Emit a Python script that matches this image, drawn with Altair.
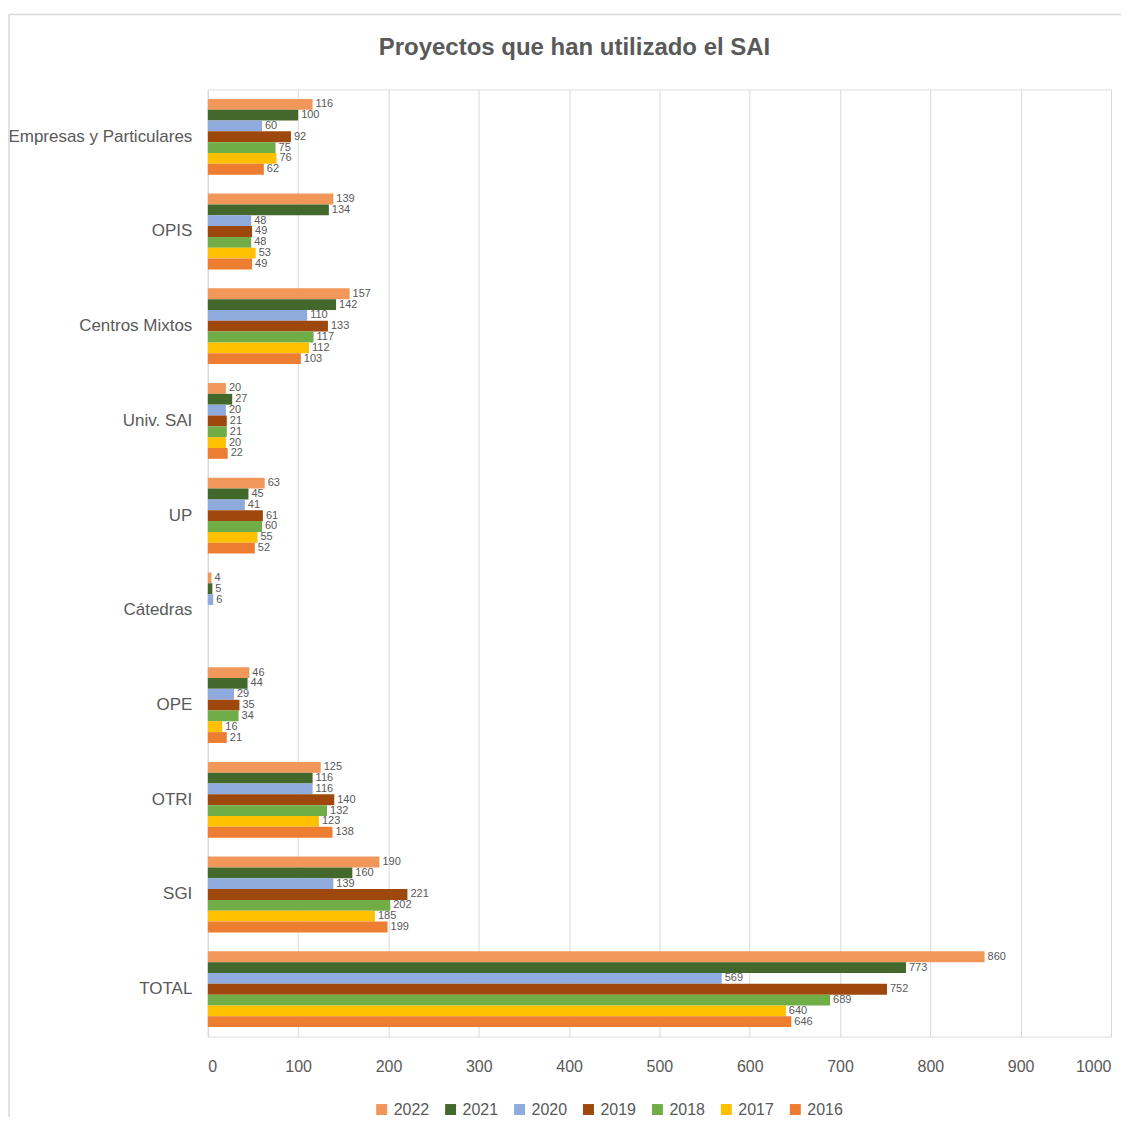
import altair as alt
import pandas as pd

categories = ["Empresas y Particulares", "OPIS", "Centros Mixtos", "Univ. SAI", "UP",
              "Cátedras", "OPE", "OTRI", "SGI", "TOTAL"]
years = ["2022", "2021", "2020", "2019", "2018", "2017", "2016"]
colors = ["#F1975A", "#43682B", "#8FAADC", "#9E480E", "#70AD47", "#FFC000", "#ED7D31"]

v2022 = [116, 139, 157, 20, 63, 4, 46, 125, 190, 860]
v2021 = [100, 134, 142, 27, 45, 5, 44, 116, 160, 773]
v2020 = [60, 48, 110, 20, 41, 6, 29, 116, 139, 569]
v2019 = [92, 49, 133, 21, 61, None, 35, 140, 221, 752]
v2018 = [75, 48, 117, 21, 60, None, 34, 132, 202, 689]
v2017 = [76, 53, 112, 20, 55, None, 16, 123, 185, 640]
v2016 = [62, 49, 103, 22, 52, None, 21, 138, 199, 646]
xticks = list(range(0, 1001, 100))
title_text = "Proyectos que han utilizado el SAI"

series = dict(zip(years, [v2022, v2021, v2020, v2019, v2018, v2017, v2016]))
rows = []
for y, vals in series.items():
    for c, v in zip(categories, vals):
        if v is not None:
            rows.append({"cat": c, "year": y, "value": v})
df = pd.DataFrame(rows)

FONT = "Liberation Sans"

base = alt.Chart(df).encode(
    y=alt.Y("cat:N", sort=categories,
            scale=alt.Scale(paddingInner=0.2, paddingOuter=0.1),
            axis=alt.Axis(title=None, ticks=False, grid=False, labelFontSize=17,
                          labelColor="#595959", labelFont=FONT, labelPadding=16,
                          domainColor="#D9D9D9", labelLimit=300)),
    yOffset=alt.YOffset("year:N", sort=years),
)

bars = base.mark_bar().encode(
    x=alt.X("value:Q", scale=alt.Scale(domain=[0, 1000], nice=False),
            axis=alt.Axis(title=None, values=xticks, format="d", labelOverlap=False,
                          ticks=False, domain=False, gridColor="#D9D9D9",
                          labelFontSize=16, labelColor="#595959", labelFont=FONT,
                          labelPadding=22)),
    color=alt.Color("year:N", sort=years,
                    scale=alt.Scale(domain=years, range=colors),
                    legend=alt.Legend(title=None, orient="none", direction="horizontal",
                                      legendX=166, legendY=1013, symbolType="square",
                                      symbolSize=120, labelFontSize=16, labelColor="#595959",
                                      labelFont=FONT, columnPadding=13, symbolStrokeWidth=0,
                                      labelOffset=4)),
)

labels = base.mark_text(align="left", baseline="middle", dx=3, fontSize=11,
                        color="#595959", font=FONT).encode(
    x="value:Q",
    text="value:Q",
)

frame_df = pd.DataFrame({"t": [title_text]})
top_border = alt.Chart(frame_df).mark_rule(color="#D9D9D9", strokeWidth=1.5).encode(
    x=alt.value(-199), x2=alt.value(930), y=alt.value(-75))
left_border = alt.Chart(frame_df).mark_rule(color="#D9D9D9", strokeWidth=1.5).encode(
    x=alt.value(-199), y=alt.value(-75), y2=alt.value(1040))
title_mark = alt.Chart(frame_df).mark_text(
    fontSize=24, font=FONT, fontWeight="bold", color="#595959",
    align="center", baseline="middle").encode(
    x=alt.value(367), y=alt.value(-41), text="t:N")

chart = alt.layer(top_border, left_border, title_mark, bars, labels).properties(
    width=904, height=948,
    autosize=alt.AutoSizeParams(type="none"),
    padding={"left": 200, "top": 81, "right": 10, "bottom": 80},
).configure_view(stroke="transparent", strokeWidth=0).configure(background="white")

chart.save("out.html", embed_options={"renderer": "svg", "actions": False})
